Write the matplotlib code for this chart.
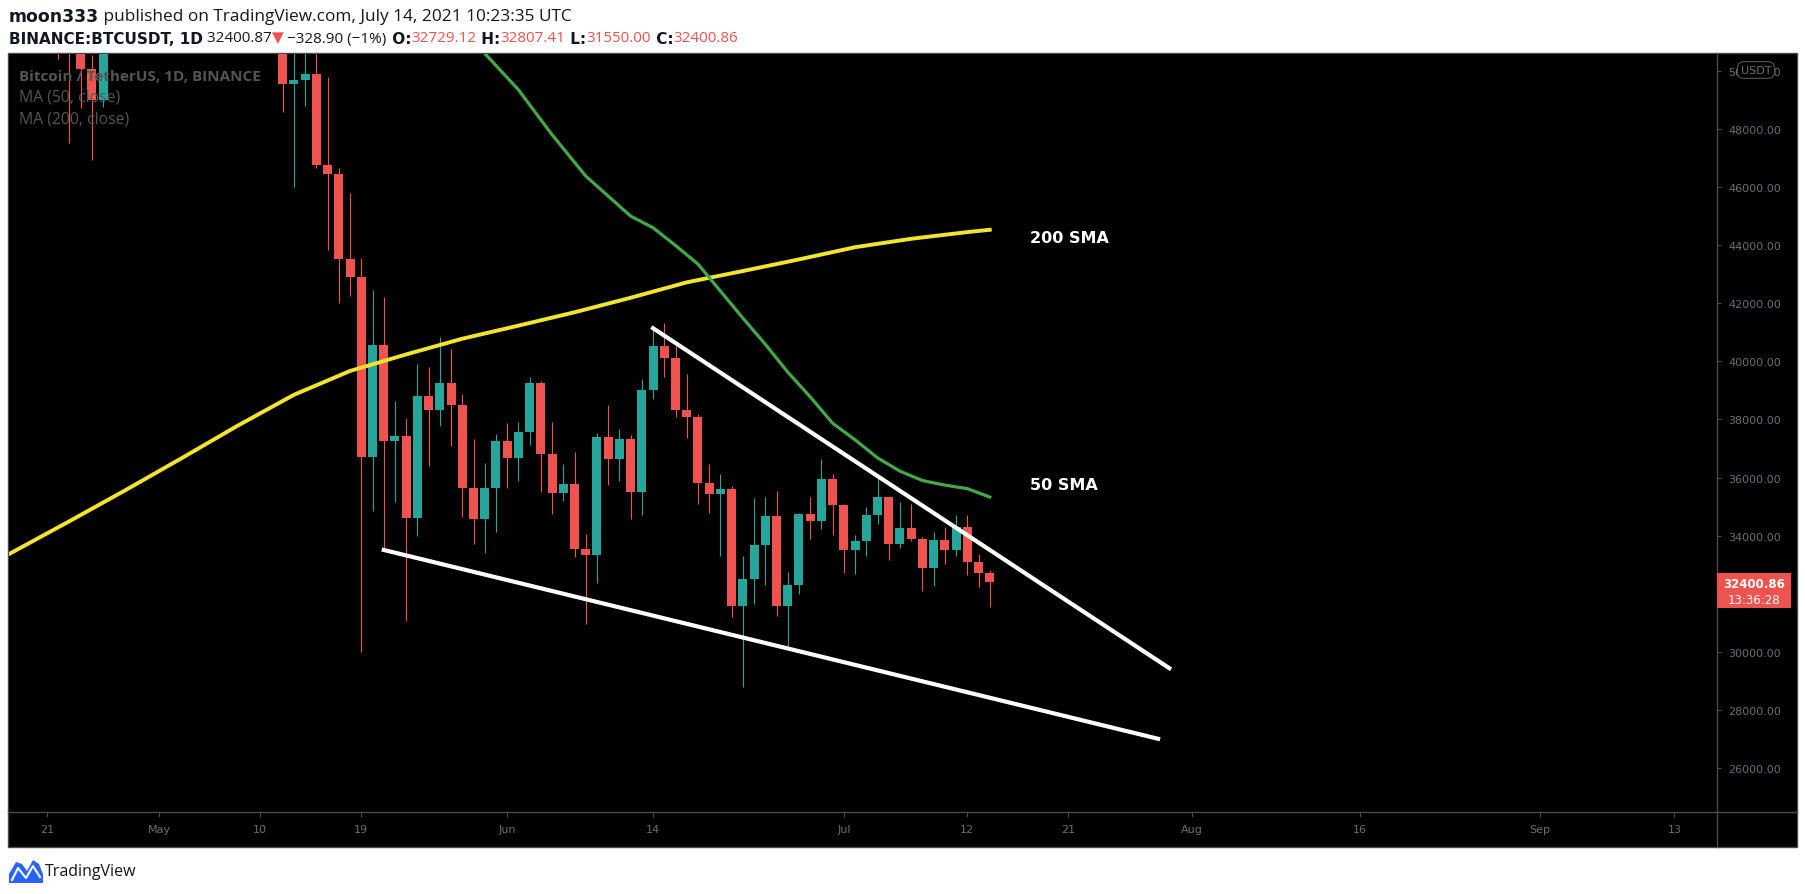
import numpy as np
import pandas as pd
import matplotlib
matplotlib.use("Agg")
import matplotlib.pyplot as plt
import matplotlib.dates as mdates
from matplotlib.patches import Rectangle, Polygon
from matplotlib.lines import Line2D
from matplotlib.ticker import FormatStrFormatter

W, H = 1805, 895

# daily BTCUSDT candles, Apr 17 .. Jul 14 2021
dates = pd.date_range("2021-04-17", "2021-07-14", freq="D")
opens = [61334, 60006, 56150, 55663, 56425, 53787, 51690, 51111, 50047, 49004,
         54030, 55033, 54824, 53555, 57697, 57828, 56610, 57214, 53241, 57473,
         56428, 57380, 58929, 58280, 55860, 56704, 49540, 49700, 49880, 46762,
         46456, 43538, 42910, 36700, 40550, 37250, 37430, 34620, 38800, 38310,
         39260, 38510, 35650, 34570, 35640, 37260, 36660, 37560, 39260, 36800,
         35470, 35780, 33530, 33340, 37400, 36640, 37330, 35520, 39020, 40530,
         40130, 38340, 38070, 35800, 35440, 35600, 31590, 32510, 33680, 34680,
         31590, 32290, 34750, 34520, 35950, 35070, 33520, 33820, 34710, 35330,
         33700, 34270, 33870, 32890, 33860, 33520, 34310, 33100, 32729.12]
highs = [62506, 60499, 57526, 57000, 56757, 55410, 52130, 51200, 50555, 54356,
         55466, 56428, 55195, 57963, 58458, 57900, 58981, 57214, 57911, 58360,
         58650, 59500, 59300, 59592, 56888, 58000, 51367, 51560, 50700, 49800,
         46643, 45800, 43546, 42451, 42200, 38650, 38050, 39910, 39800, 40830,
         40430, 38880, 37330, 36500, 37500, 37880, 37930, 39450, 39310, 37900,
         36470, 36870, 34050, 37530, 38500, 37670, 37470, 39390, 41120, 41320,
         40520, 39570, 38180, 36470, 36120, 35720, 33290, 35290, 35330, 35540,
         32740, 34790, 35340, 36640, 36120, 35080, 34010, 34980, 36000, 35340,
         35160, 35090, 33950, 34130, 34310, 34710, 34710, 33370, 32807.41]
lows = [59580, 50931, 54221, 53329, 53695, 50400, 47500, 48734, 46930, 48753,
        53222, 53813, 52330, 53013, 57052, 56035, 56478, 53046, 52900, 55200,
        55241, 56900, 56235, 53400, 54370, 48600, 46000, 48805, 46650, 43825,
        42001, 42250, 30000, 34850, 33488, 35170, 31080, 34000, 36410, 37790,
        37100, 34660, 33700, 33420, 34140, 35640, 35880, 37120, 35520, 34760,
        35210, 33280, 30970, 32370, 35760, 35880, 34560, 34720, 38710, 39470,
        38100, 37350, 35090, 34780, 33310, 31210, 28780, 31660, 32290, 31250,
        30130, 31980, 33870, 34240, 34030, 32710, 32690, 33310, 34400, 33150,
        33560, 33810, 32080, 32280, 33010, 33310, 32660, 32220, 31550.00]
closes = [60006, 56150, 55633, 56425, 53787, 51690, 51125, 50047, 49004, 54021,
          55033, 54824, 53555, 57750, 57828, 56610, 57213, 53241, 57473, 56428,
          57380, 58928, 58280, 55859, 56704, 49540, 49700, 49880, 46761, 46456,
          43538, 42910, 36700, 40550, 37250, 37430, 34620, 38800, 38310, 39260,
          38510, 35650, 34570, 35640, 37260, 36660, 37560, 39260, 36800, 35470,
          35780, 33530, 33340, 37400, 36640, 37330, 35520, 39020, 40530, 40130,
          38340, 38070, 35800, 35440, 35600, 31590, 32510, 33680, 34680, 31590,
          32290, 34750, 34520, 35950, 35070, 33520, 33820, 34710, 35330, 33700,
          34270, 33870, 32890, 33860, 33520, 34310, 33100, 32730, 32400.86]

# moving averages
ma200_dates = ["2021-04-17", "2021-04-18", "2021-04-23", "2021-04-28", "2021-05-03",
               "2021-05-08", "2021-05-13", "2021-05-18", "2021-05-23", "2021-05-28",
               "2021-06-02", "2021-06-07", "2021-06-12", "2021-06-17", "2021-06-22",
               "2021-06-27", "2021-07-02", "2021-07-07", "2021-07-12", "2021-07-14"]
ma200_vals = [33240, 33450, 34500, 35570, 36670, 37790, 38850, 39670, 40240, 40780,
              41230, 41690, 42190, 42720, 43110, 43510, 43930, 44220, 44450, 44530]

ma50_dates = ["2021-05-28", "2021-05-30", "2021-06-02", "2021-06-05", "2021-06-08",
              "2021-06-12", "2021-06-14", "2021-06-16", "2021-06-18", "2021-06-20",
              "2021-06-22", "2021-06-24", "2021-06-26", "2021-06-28", "2021-06-30",
              "2021-07-02", "2021-07-04", "2021-07-06", "2021-07-08", "2021-07-10",
              "2021-07-12", "2021-07-14"]
ma50_vals = [51500, 50600, 49350, 47800, 46380, 45000, 44600, 43990, 43350, 42420,
             41490, 40590, 39630, 38780, 37870, 37300, 36680, 36220, 35900, 35740,
             35620, 35330]

# hand drawn wedge lines
upper_dates = ["2021-06-14", "2021-07-30"]
upper_vals = [41140, 29440]
lower_dates = ["2021-05-21", "2021-07-29"]
lower_vals = [33510, 27010]

tick_dates = ["2021-04-21", "2021-05-01", "2021-05-10", "2021-05-19", "2021-06-01",
              "2021-06-14", "2021-07-01", "2021-07-12", "2021-07-21", "2021-08-01",
              "2021-08-16", "2021-09-01", "2021-09-13"]
tick_labels = ["21", "May", "10", "19", "Jun", "14", "Jul", "12", "21", "Aug",
               "16", "Sep", "13"]
# 32000 sits under the last price label, so it is not shown
price_ticks = [26000, 28000, 30000, 34000, 36000, 38000, 40000, 42000, 44000,
               46000, 48000, 50000]

UP = "#26a69a"
DOWN = "#ef5350"
GRID = "#4a4a4a"
TXT = "#6b6e78"
SANS = ["Open Sans", "DejaVu Sans"]


def px(x, y):
    return x / W, 1 - y / H


def d2n(d):
    return mdates.date2num(pd.to_datetime(d))


fig = plt.figure(figsize=(W / 100, H / 100), dpi=100, facecolor="white")

# black frame of the chart
fig.add_artist(Rectangle(px(8, 848), 1789 / W, 794 / H, transform=fig.transFigure,
                         facecolor="black", edgecolor=GRID, lw=1, zorder=-1))

ax = fig.add_axes([9 / W, 1 - 813 / H, 1708 / W, 758 / H], zorder=1)
ax.set_facecolor("black")
for s in ax.spines.values():
    s.set_visible(False)

x = d2n(dates)
o = np.array(opens, dtype=float)
c = np.array(closes, dtype=float)
cols = np.where(c >= o, UP, DOWN)
ax.vlines(x, lows, highs, colors=cols, lw=0.8, zorder=2)
ax.bar(x, np.maximum(np.abs(c - o), 40), bottom=np.minimum(o, c), width=0.8,
       color=cols, lw=0, zorder=2)

ax.plot(d2n(ma200_dates), ma200_vals, color="#f5e42c", lw=2.8, zorder=3)
ax.plot(d2n(ma50_dates), ma50_vals, color="#45a847", lw=2.3, zorder=3)

ax.plot(d2n(upper_dates), upper_vals, color="white", lw=3, zorder=4)
ax.plot(d2n(lower_dates), lower_vals, color="white", lw=3, zorder=4)

ax.text(d2n("2021-07-17 14:00"), 44250, "200 SMA", color="white", fontsize=11.5,
        fontweight="bold", va="center", ha="left", zorder=5)
ax.text(d2n("2021-07-17 14:00"), 35750, "50 SMA", color="white", fontsize=11.5,
        fontweight="bold", va="center", ha="left", zorder=5)

x0 = d2n("2021-04-21")
ax.set_xlim(x0 - 3.39, x0 + 148.8)
ax.set_ylim(24490, 50580)

ax.set_xticks(d2n(tick_dates))
ax.set_xticklabels(tick_labels)
ax.yaxis.tick_right()
ax.set_yticks(price_ticks)
ax.yaxis.set_major_formatter(FormatStrFormatter("%.2f"))
ax.tick_params(axis="x", colors=GRID, labelcolor=TXT, length=3.5, width=0.8,
               pad=5, labelsize=8)
ax.tick_params(axis="y", colors=GRID, labelcolor=TXT, length=3, width=0.8,
               pad=5, labelsize=8)

# axis separators
fig.add_artist(Line2D([8 / W, 1797 / W], [1 - 813 / H] * 2, transform=fig.transFigure,
                      color=GRID, lw=1, zorder=2))
fig.add_artist(Line2D([1717 / W] * 2, [1 - 54 / H, 1 - 848 / H], transform=fig.transFigure,
                      color=GRID, lw=1, zorder=2))

# legend in the pane
LEG = "#555555"
fig.text(*px(19, 77), "Bitcoin / TetherUS, 1D, BINANCE", fontsize=11, fontweight="bold",
         color=LEG, family=SANS, va="center", zorder=5)
fig.text(*px(19, 98), "MA (50, close)", fontsize=11.3, color=LEG, family=SANS,
         va="center", zorder=5)
fig.text(*px(19, 119), "MA (200, close)", fontsize=11.3, color=LEG, family=SANS,
         va="center", zorder=5)

# currency badge and last price label
fig.text(*px(1756, 71), "USDT", fontsize=8, color=TXT, ha="center", va="center", zorder=6,
         bbox=dict(boxstyle="round,pad=0.3,rounding_size=0.6", fc="black", ec="#555555", lw=0.8))
fig.add_artist(Rectangle(px(1717, 609), 74 / W, 35 / H, transform=fig.transFigure,
                         facecolor=DOWN, edgecolor="none", zorder=5))
fig.text(*px(1754, 585), "32400.86", fontsize=8.5, fontweight="bold", color="white",
         ha="center", va="center", zorder=6)
fig.text(*px(1754, 601), "13:36:28", fontsize=8.5, color="white", ha="center",
         va="center", zorder=6)

# header lines
renderer = fig.canvas.get_renderer()
BOLD = ["DejaVu Sans"]


def run_text(pieces, xpos, ypos, size):
    for s, bold, col in pieces:
        t = fig.text(*px(xpos, ypos), s, fontsize=size, color=col,
                     family=BOLD if bold else SANS,
                     fontweight="bold" if bold else "normal", va="center", ha="left")
        xpos += t.get_window_extent(renderer=renderer).width


DARK = "#131722"
run_text([("moon333", True, DARK),
          (" published on TradingView.com, July 14, 2021 10:23:35 UTC", False, DARK)],
         9, 17, 12.4)
run_text([("BINANCE:BTCUSDT, 1D", True, DARK), (" 32400.87", False, DARK),
          ("\u25bc", False, DOWN), (" \u2212328.90 (\u22121%)", False, DARK),
          (" O:", True, DARK), ("32729.12", False, DOWN),
          (" H:", True, DARK), ("32807.41", False, DOWN),
          (" L:", True, DARK), ("31550.00", False, DOWN),
          (" C:", True, DARK), ("32400.86", False, DOWN)],
         9, 39, 11)

# footer logo
logo = [(9, 884), (9, 875), (16, 863), (22, 865), (27, 872), (33, 861), (39, 865),
        (43, 875), (43, 884)]
fig.add_artist(Polygon([px(a, b) for a, b in logo], closed=True, transform=fig.transFigure,
                       facecolor="#2962ff", edgecolor="none"))
wave = [(12, 881), (18, 869), (26, 879), (33, 867), (40, 878)]
fig.add_artist(Line2D([px(a, b)[0] for a, b in wave], [px(a, b)[1] for a, b in wave],
                      transform=fig.transFigure, color="white", lw=1.5))
fig.text(*px(45, 872), "TradingView", fontsize=11.5, color=DARK, family=SANS,
         va="center", ha="left")

fig.savefig("out.png", dpi=100, facecolor="white")
